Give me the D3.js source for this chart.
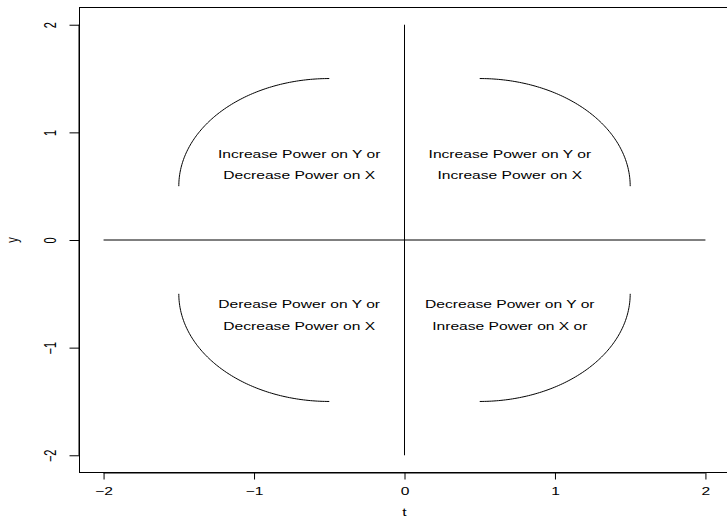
<!DOCTYPE html>
<html>
<head>
<meta charset="utf-8">
<script src="https://cdn.jsdelivr.net/npm/d3@7"></script>
<style>
  html, body { margin: 0; padding: 0; background: #fff; }
  svg { display: block; font-family: "Liberation Sans", Arial, Helvetica, sans-serif; }
</style>
</head>
<body>
<svg id="chart" width="727" height="519"></svg>
<script>
// Axis ticks
const xTicks = [-2, -1, 0, 1, 2];
const yTicks = [-2, -1, 0, 1, 2];
const xTickLabels = ["\u22122", "\u22121", "0", "1", "2"];
const yTickLabels = ["\u22122", "\u22121", "0", "1", "2"];

// Reference lines through the origin
const axisLines = [
  { x1: 0, y1: -2, x2: 0, y2: 2 },
  { x1: -2, y1: 0, x2: 2, y2: 0 }
];

// Quarter-circle arcs: centre, radius and angular range (radians)
const arcCentersX = [0.5, -0.5, -0.5, 0.5];
const arcCentersY = [0.5, 0.5, -0.5, -0.5];
const arcRadius = [1, 1, 1, 1];
const arcStart = [0, Math.PI / 2, Math.PI, 3 * Math.PI / 2];
const arcEnd = [Math.PI / 2, Math.PI, 3 * Math.PI / 2, 2 * Math.PI];

// Quadrant annotations
const labelX = [-0.7, -0.7, 0.7, 0.7, -0.7, -0.7, 0.7, 0.7];
const labelY = [0.8, 0.6, 0.8, 0.6, -0.6, -0.8, -0.6, -0.8];
const labelText = [
  "Increase Power on Y or", "Decrease Power on X",
  "Increase Power on Y or", "Increase Power on X",
  "Derease Power on Y or", "Decrease Power on X",
  "Decrease Power on Y or", "Inrease Power on X or"
];

// Text is drawn in a horizontally widened face
const stretch = 1.42;
const fontSize = 11;

const svg = d3.select("#chart");
const x = d3.scaleLinear().domain([-2.16, 2.16]).range([79.5, 729.5]);
const y = d3.scaleLinear().domain([-2.16, 2.16]).range([472.5, 7.5]);

// Plot frame
svg.append("rect")
  .attr("x", x(-2.16)).attr("y", y(2.16))
  .attr("width", x(2.16) - x(-2.16)).attr("height", y(-2.16) - y(2.16))
  .attr("fill", "none").attr("stroke", "#000").attr("stroke-width", 1);

// Bottom axis
const xAxis = d3.axisBottom(x).tickValues(xTicks)
  .tickFormat((d, i) => xTickLabels[i]).tickSizeOuter(0).tickSize(7);
const gx = svg.append("g").attr("transform", `translate(0,${y(-2.16)})`).call(xAxis);
gx.select(".domain").attr("d", `M${x(-2)},0.5H${x(2)}`);
gx.selectAll(".tick text")
  .attr("y", null).attr("dy", null)
  .attr("transform", `translate(0,22) scale(${stretch},1)`)
  .attr("font-size", fontSize).attr("fill", "#000")
  .attr("font-family", "Liberation Sans, Arial, sans-serif");

// Left axis with rotated labels
const yAxis = d3.axisLeft(y).tickValues(yTicks)
  .tickFormat((d, i) => yTickLabels[i]).tickSizeOuter(0).tickSize(10);
const gy = svg.append("g").attr("transform", `translate(${x(-2.16)},0)`).call(yAxis);
gy.select(".domain").attr("d", `M-0.5,${y(-2)}V${y(2)}`);
gy.selectAll(".tick text")
  .attr("x", null).attr("dy", null)
  .attr("text-anchor", "middle")
  .attr("transform", `translate(-24,0) scale(${stretch},1) rotate(-90)`)
  .attr("font-size", fontSize).attr("fill", "#000")
  .attr("font-family", "Liberation Sans, Arial, sans-serif");

// Axis titles
svg.append("text")
  .attr("transform", `translate(${x(0)},516) scale(${stretch},1)`)
  .attr("text-anchor", "middle").attr("font-size", fontSize).text("t");
svg.append("text")
  .attr("transform", `translate(18,${y(0)}) scale(${stretch},1) rotate(-90)`)
  .attr("text-anchor", "middle").attr("font-size", fontSize).text("y");

// Origin lines
svg.selectAll("line.ref").data(axisLines).enter().append("line")
  .attr("class", "ref")
  .attr("x1", d => x(d.x1)).attr("y1", d => y(d.y1))
  .attr("x2", d => x(d.x2)).attr("y2", d => y(d.y2))
  .attr("stroke", "#000").attr("stroke-width", 1);

// Arcs, sampled in data coordinates
const line = d3.line().x(d => x(d[0])).y(d => y(d[1]));
arcCentersX.forEach((cx, i) => {
  const pts = d3.range(0, 101).map(k => {
    const a = arcStart[i] + (arcEnd[i] - arcStart[i]) * k / 100;
    return [cx + arcRadius[i] * Math.cos(a), arcCentersY[i] + arcRadius[i] * Math.sin(a)];
  });
  svg.append("path").attr("d", line(pts))
    .attr("fill", "none").attr("stroke", "#000").attr("stroke-width", 1);
});

// Annotations
svg.selectAll("text.note").data(labelText).enter().append("text")
  .attr("class", "note")
  .attr("transform", (d, i) => `translate(${x(labelX[i])},${y(labelY[i])}) scale(${stretch},1)`)
  .attr("dy", "0.35em")
  .attr("text-anchor", "middle")
  .attr("font-size", fontSize)
  .attr("fill", "#000")
  .text(d => d);
</script>
</body>
</html>
